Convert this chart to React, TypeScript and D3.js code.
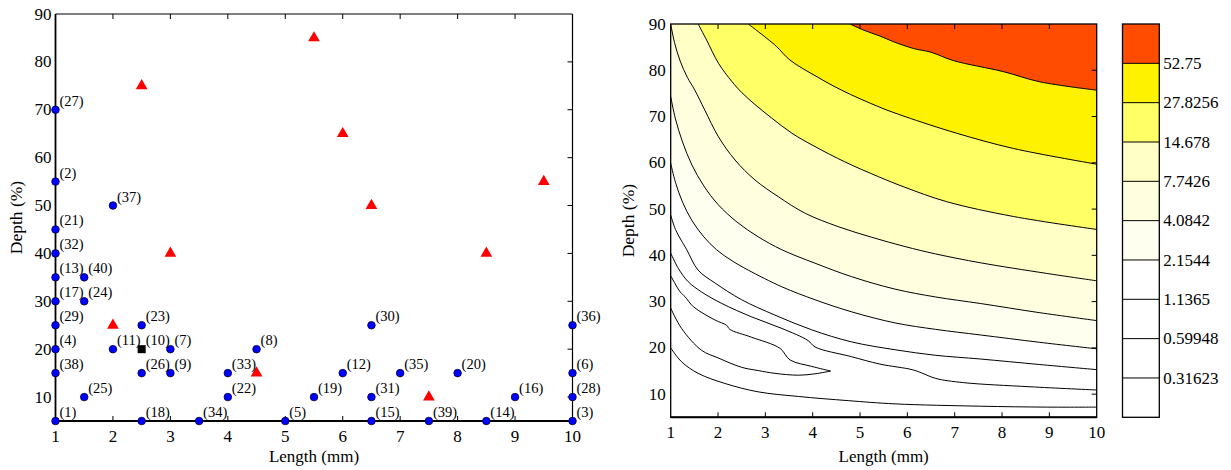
import React from "react";
import * as d3 from "d3";

// ---------- Left panel data ----------
const sampleIds = [1, 2, 3, 4, 5, 6, 7, 8, 9, 11, 12, 13, 14, 15, 16, 17, 18, 19, 20, 21, 22, 23, 24, 25, 26, 27, 28, 29, 30, 31, 32, 33, 34, 35, 36, 37, 38, 39, 40];
const sampleLength = [1, 1, 10, 1, 5, 10, 3, 4.5, 3, 2, 6, 1, 8.5, 6.5, 9, 1, 2.5, 5.5, 8, 1, 4, 2.5, 1.5, 1.5, 2.5, 1, 10, 1, 6.5, 6.5, 1, 4, 3.5, 7, 10, 2, 1, 7.5, 1.5];
const sampleDepth = [5, 55, 5, 20, 5, 15, 20, 20, 15, 20, 15, 35, 5, 5, 10, 30, 5, 10, 15, 45, 10, 25, 30, 10, 15, 70, 10, 25, 25, 10, 40, 15, 5, 15, 25, 50, 15, 5, 35];

const refIds = [10];
const refLength = [2.5];
const refDepth = [20];

const testLength = [2.5, 5.5, 6, 6.5, 3, 9.5, 8.5, 2, 4.5, 7.5];
const testDepth = [75, 85, 65, 50, 40, 55, 40, 25, 15, 10];

const xTicks = [1, 2, 3, 4, 5, 6, 7, 8, 9, 10];
const yTicks = [10, 20, 30, 40, 50, 60, 70, 80, 90];

// ---------- Right panel data (contour lines) ----------
const levelLabels = ["52.75", "27.8256", "14.678", "7.7426", "4.0842", "2.1544", "1.1365", "0.59948", "0.31623"];
const bandColors = ["#ffffff", "#ffffff", "#ffffff", "#ffffff", "#fffff0", "#ffffe0", "#ffffc6", "#ffff66", "#fff200", "#ff4c00"];

const c5275: [number, number][] = [[4.79, 90], [5.07, 88.7], [5.42, 87.4], [5.7, 86.2], [6.13, 84.7], [6.5, 83.9], [6.97, 82.1], [8.03, 79.7], [8.8, 77.5], [10, 75.7]];
const c2783: [number, number][] = [[2.64, 90], [3.03, 86.9], [3.24, 85.1], [3.52, 82.2], [4.09, 78.6], [4.61, 75.7], [5.42, 72.0], [5.95, 70.0], [7.04, 66.4], [8.24, 63.1], [10, 59.7]];
const c1468: [number, number][] = [[1.58, 90], [1.76, 86.5], [2.01, 81.5], [2.29, 77.6], [2.5, 75.2], [2.78, 72.6], [3.13, 69.7], [3.56, 66.4], [4.05, 63.5], [4.68, 60.2], [5.39, 57.0], [5.95, 54.7], [6.83, 51.6], [8.24, 48.4], [10, 45.6]];
const c0774: [number, number][] = [[1, 90], [1.08, 86], [1.2, 82], [1.35, 78.5], [1.51, 75.7], [1.72, 71.4], [2.01, 65.6], [2.36, 60.6], [2.78, 56.3], [3.27, 52.7], [3.84, 49.1], [4.54, 46.2], [5.25, 43.9], [5.95, 41.9], [6.6, 40.3], [7.54, 38.4], [8.94, 36.1], [10, 34.5]];
const c0408: [number, number][] = [[1, 74.3], [1.1, 69.5], [1.25, 64.5], [1.45, 59.5], [1.7, 55], [2.0, 51], [2.4, 47.2], [2.85, 44], [3.35, 41.2], [4.05, 38.3], [4.82, 35.4], [5.74, 32.7], [6.6, 31.0], [7.54, 29.6], [8.8, 27.6], [10, 25.9]];
const c0215: [number, number][] = [[1, 59.9], [1.1, 55.8], [1.25, 51.5], [1.45, 47.5], [1.7, 44], [1.97, 41.2], [2.3, 38.8], [2.64, 36.8], [3.35, 33.2], [4.05, 30.4], [4.82, 27.8], [5.74, 25.4], [6.6, 24.0], [7.54, 22.8], [8.8, 21.2], [10, 19.8]];
const c0114: [number, number][] = [[1, 48.7], [1.1, 45.6], [1.22, 43.3], [1.34, 41.2], [1.58, 36.8], [1.94, 34.0], [2.5, 30.4], [3.2, 27.1], [3.98, 23.9], [4.82, 21.3], [5.74, 19.6], [6.6, 18.4], [7.54, 17.6], [8.8, 16.4], [10, 15.3]];
const c0060: [number, number][] = [[1, 40.5], [1.16, 37.2], [1.37, 34.3], [1.65, 32.1], [2.08, 29.6], [2.71, 26.7], [3.35, 24.2], [3.9, 21.6], [4.05, 20.2], [4.82, 18.1], [5.42, 16.5], [6.1, 15.3], [6.3, 14.6], [6.6, 13.4], [7.18, 12.5], [8.59, 11.6], [10, 10.9]];
const c0032a: [number, number][] = [[1, 35.6], [1.2, 32.1], [1.3, 31.1], [1.48, 28.9], [1.94, 26.0], [2.18, 24.9], [2.25, 24.0], [2.71, 22.3], [3.31, 19.9], [3.52, 17.4], [3.98, 16.0], [4.38, 15.0]];
const c0032b: [number, number][] = [[1, 28.6], [1.23, 24.2], [1.65, 19.5], [2.01, 17.8], [2.5, 15.8], [2.85, 15.1], [3.2, 14.5], [3.7, 14.1], [4.05, 14.4], [4.38, 15.0]];
const c0032c: [number, number][] = [[1, 20], [1.23, 17.0], [1.58, 14.5], [2.15, 12.3], [2.85, 10.5], [3.7, 9.5], [4.75, 8.6], [5.74, 7.9], [7.54, 7.4], [8.94, 7.2], [10, 7.2]];

// filled bands (superlevel regions) : [contour, color index]
const fillContours: [[number, number][], number][] = [
  [c0215, 4],
  [c0408, 5],
  [c0774, 6],
  [c1468, 7],
  [c2783, 8],
  [c5275, 9],
];
const allContours = [c5275, c2783, c1468, c0774, c0408, c0215, c0114, c0060, c0032a, c0032b, c0032c];

const FONT = "'Liberation Serif', 'Times New Roman', serif";

export default function App() {
  const xL = d3.scaleLinear().domain([1, 10]).range([55.5, 572.5]);
  const yL = d3.scaleLinear().domain([5, 90]).range([421, 14]);
  const xR = d3.scaleLinear().domain([1, 10]).range([670.7, 1096.7]);
  const yR = d3.scaleLinear().domain([5, 90]).range([417.3, 24]);
  const cbX0 = 1122.5;
  const cbX1 = 1159.3;
  const cbY = d3.scaleLinear().domain([0, 10]).range([417.3, 24]);

  const lineR = d3
    .line<[number, number]>()
    .x((d) => xR(d[0]))
    .y((d) => yR(d[1]))
    .curve(d3.curveCatmullRom.alpha(0.5));

  const fillPath = (pts: [number, number][]) => {
    let d = lineR(pts) as string;
    d += `L${xR(10)},${yR(90)}`;
    if (pts[0][0] === 1 && pts[0][1] < 90) d += `L${xR(1)},${yR(90)}`;
    return d + "Z";
  };

  const tri = d3.symbol(d3.symbolTriangle, 60)() as string;
  const tickLen = 5;

  return (
    <svg
      width={1231}
      height={470}
      style={{ position: "absolute", left: 0, top: 0, display: "block", background: "#fff" }}
      fontFamily={FONT}
    >
      <defs>
        <clipPath id="clipR">
          <rect x={xR(1)} y={yR(90)} width={xR(10) - xR(1)} height={yR(5) - yR(90)} />
        </clipPath>
      </defs>

      {/* ================= LEFT PANEL ================= */}
      <rect x={xL(1)} y={yL(90)} width={xL(10) - xL(1)} height={yL(5) - yL(90)} fill="#fff" />
      {xTicks.slice(1, -1).map((t) => (
        <g key={"lt" + t}>
          <line x1={xL(t)} x2={xL(t)} y1={yL(90)} y2={yL(90) + tickLen} stroke="#000" strokeWidth={1} />
          <line x1={xL(t)} x2={xL(t)} y1={yL(5)} y2={yL(5) - tickLen} stroke="#000" strokeWidth={1} />
        </g>
      ))}
      {yTicks.slice(0, -1).map((t) => (
        <line key={"lr" + t} x1={xL(10)} x2={xL(10) - tickLen} y1={yL(t)} y2={yL(t)} stroke="#000" strokeWidth={1} />
      ))}
      <line x1={xL(1)} x2={xL(10)} y1={yL(90)} y2={yL(90)} stroke="#000" strokeWidth={1.2} />
      <line x1={xL(10)} x2={xL(10)} y1={yL(90)} y2={yL(5)} stroke="#000" strokeWidth={1.2} />
      <line x1={xL(1)} x2={xL(1)} y1={yL(90)} y2={yL(5)} stroke="#000" strokeWidth={1.8} />
      <line x1={xL(1)} x2={xL(10)} y1={yL(5)} y2={yL(5)} stroke="#000" strokeWidth={2} />
      {xTicks.map((t) => (
        <text key={"lxl" + t} x={xL(t)} y={yL(5) + 20.5} fontSize={17} textAnchor="middle">
          {t}
        </text>
      ))}
      {yTicks.map((t) => (
        <text key={"lyl" + t} x={xL(1) - 4} y={yL(t) + 5.6} fontSize={17} textAnchor="end">
          {t}
        </text>
      ))}
      <text x={(xL(1) + xL(10)) / 2} y={462} fontSize={17} textAnchor="middle">
        Length (mm)
      </text>
      <text transform={`translate(22,${(yL(5) + yL(90)) / 2}) rotate(-90)`} fontSize={17.5} textAnchor="middle">
        Depth (%)
      </text>

      {testLength.map((v, i) => (
        <path key={"tr" + i} d={tri} transform={`translate(${xL(v)},${yL(testDepth[i])})`} fill="#ff0000" />
      ))}
      {sampleIds.map((id, i) => (
        <g key={"pt" + id}>
          <circle cx={xL(sampleLength[i])} cy={yL(sampleDepth[i])} r={3.8} fill="#0000ff" stroke="#000033" strokeWidth={0.8} />
          <text x={xL(sampleLength[i]) + 4} y={yL(sampleDepth[i]) - 4} fontSize={14.5}>
            ({id})
          </text>
        </g>
      ))}
      {refIds.map((id, i) => (
        <g key={"ref" + id}>
          <rect x={xL(refLength[i]) - 4} y={yL(refDepth[i]) - 4} width={8} height={8} fill="#000" />
          <text x={xL(refLength[i]) + 4} y={yL(refDepth[i]) - 4} fontSize={14.5}>
            ({id})
          </text>
        </g>
      ))}

      {/* ================= RIGHT PANEL ================= */}
      <rect x={xR(1)} y={yR(90)} width={xR(10) - xR(1)} height={yR(5) - yR(90)} fill={bandColors[0]} />
      <g clipPath="url(#clipR)">
        {fillContours.map(([pts, ci], i) => (
          <path key={"f" + i} d={fillPath(pts)} fill={bandColors[ci]} stroke="none" />
        ))}
        {allContours.map((pts, i) => (
          <path key={"c" + i} d={lineR(pts) as string} fill="none" stroke="#000" strokeWidth={1} />
        ))}
      </g>
      {xTicks.slice(1, -1).map((t) => (
        <g key={"rt" + t}>
          <line x1={xR(t)} x2={xR(t)} y1={yR(90)} y2={yR(90) + tickLen} stroke="#000" strokeWidth={1} />
          <line x1={xR(t)} x2={xR(t)} y1={yR(5)} y2={yR(5) - tickLen} stroke="#000" strokeWidth={1} />
        </g>
      ))}
      {yTicks.slice(0, -1).map((t) => (
        <line key={"rr" + t} x1={xR(10)} x2={xR(10) - tickLen} y1={yR(t)} y2={yR(t)} stroke="#000" strokeWidth={1} />
      ))}
      <rect x={xR(1)} y={yR(90)} width={xR(10) - xR(1)} height={yR(5) - yR(90)} fill="none" stroke="#000" strokeWidth={1.3} />
      <line x1={xR(1)} x2={xR(10)} y1={yR(5)} y2={yR(5)} stroke="#000" strokeWidth={2} />
      {xTicks.map((t) => (
        <text key={"rxl" + t} x={xR(t)} y={yR(5) + 21} fontSize={17} textAnchor="middle">
          {t}
        </text>
      ))}
      {yTicks.map((t) => (
        <text key={"ryl" + t} x={xR(1) - 5} y={yR(t) + 5.6} fontSize={17} textAnchor="end">
          {t}
        </text>
      ))}
      <text x={(xR(1) + xR(10)) / 2} y={462} fontSize={17} textAnchor="middle">
        Length (mm)
      </text>
      <text transform={`translate(634,${(yR(5) + yR(90)) / 2}) rotate(-90)`} fontSize={17.5} textAnchor="middle">
        Depth (%)
      </text>

      {/* ================= COLORBAR ================= */}
      {bandColors.map((c, i) => (
        <rect key={"cb" + i} x={cbX0} y={cbY(i + 1)} width={cbX1 - cbX0} height={cbY(i) - cbY(i + 1)} fill={c} />
      ))}
      {levelLabels.map((lab, i) => {
        const yy = cbY(9 - i);
        return (
          <g key={"cl" + i}>
            <line x1={cbX0} x2={cbX1} y1={yy} y2={yy} stroke="#000" strokeWidth={1} />
            <text x={cbX1 + 4} y={yy + 5.6} fontSize={17}>
              {lab}
            </text>
          </g>
        );
      })}
      <rect x={cbX0} y={cbY(10)} width={cbX1 - cbX0} height={cbY(0) - cbY(10)} fill="none" stroke="#000" strokeWidth={1.3} />
    </svg>
  );
}
